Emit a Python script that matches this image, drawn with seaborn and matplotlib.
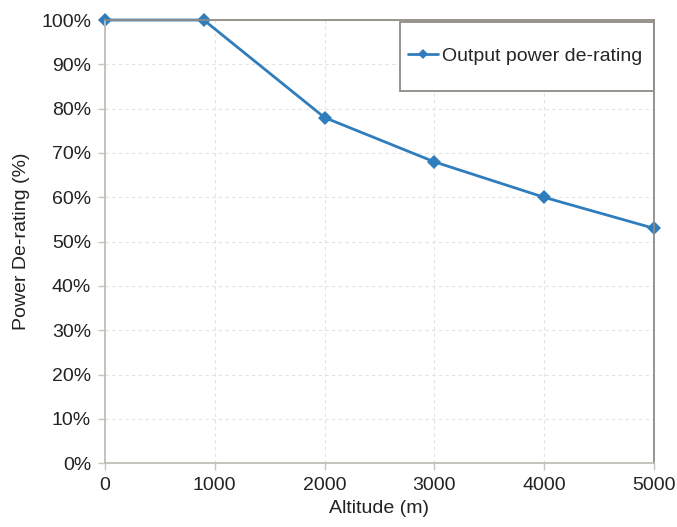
import matplotlib
matplotlib.use("Agg")
import matplotlib.pyplot as plt
import seaborn as sns
import pandas as pd
from matplotlib.patches import Rectangle
from matplotlib.ticker import PercentFormatter

altitude = [0, 900, 2000, 3000, 4000, 5000]
derating = [100, 100, 78, 68, 60, 53]
series_name = "Output power de-rating"

sns.set_style("white")
plt.rcParams['font.family'] = ['Liberation Sans', 'DejaVu Sans']

df = pd.DataFrame({"Altitude (m)": altitude, "Power De-rating (%)": derating,
                   "series": series_name})

fig = plt.figure(figsize=(6.77, 5.27), dpi=100)
ax = fig.add_axes([0.155, 0.121, 0.811, 0.841])

sns.lineplot(data=df, x="Altitude (m)", y="Power De-rating (%)", hue="series",
             palette=["#2f7dbd"], marker="D", markersize=7.5, markeredgewidth=0,
             linewidth=2, ax=ax)

ax.set_xlim(0, 5000)
ax.set_ylim(0, 100)
ax.set_xticks(range(0, 5001, 1000))
ax.set_yticks(range(0, 101, 10))
ax.yaxis.set_major_formatter(PercentFormatter(decimals=0))
ax.grid(True, linestyle=(0, (3, 3)), color="#e2e2e2", linewidth=0.8)
for side, s in ax.spines.items():
    s.set_color("#c2beb6" if side in ("left", "bottom") else "#8f8b85")
    s.set_linewidth(1.3)
    s.set_zorder(5)
for m in ax.get_lines():
    m.set_clip_on(False)
ax.tick_params(axis="both", which="major", length=5, width=1, color="#c8c4bc",
               labelsize=14, labelcolor="#222222", direction="out", pad=5)
ax.tick_params(left=True, bottom=True)
ax.set_xlabel("Altitude (m)", fontsize=14, color="#222222", labelpad=4)
ax.set_ylabel("Power De-rating (%)", fontsize=14, color="#222222", labelpad=8)

# legend frame drawn separately so the box can be taller than the entry
ax.add_patch(Rectangle((0.537, 0.840), 0.463, 0.155, transform=ax.transAxes,
                       facecolor="white", edgecolor="#8f8b85", linewidth=1.3,
                       zorder=4))
leg = ax.legend(loc="center left", bbox_to_anchor=(0.552, 0.918), fontsize=14,
                frameon=False, handlelength=1.55, handletextpad=0.2,
                borderpad=0, borderaxespad=0, markerscale=0.7)
leg.set_zorder(6)

fig.savefig("out.png", dpi=100)
